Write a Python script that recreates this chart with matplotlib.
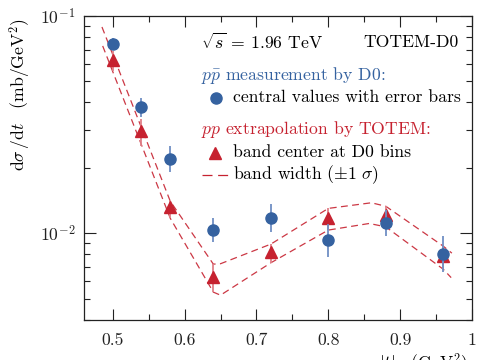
import numpy as np
import matplotlib
matplotlib.use("Agg")
import matplotlib.pyplot as plt
from matplotlib.ticker import FixedLocator, LogLocator, NullFormatter

plt.rcParams['font.family'] = ['cmr10', 'DejaVu Serif']
plt.rcParams['mathtext.fontset'] = 'cm'
plt.rcParams['axes.formatter.use_mathtext'] = True
plt.rcParams['axes.unicode_minus'] = False

# ---- data ----
t_bins = [0.50, 0.54, 0.58, 0.64, 0.72, 0.80, 0.88, 0.96]

d0_val = [0.0745, 0.0381, 0.0219, 0.0103, 0.0118, 0.00925, 0.0111, 0.00805]
d0_lo = [0.0697, 0.0344, 0.0191, 0.00907, 0.01017, 0.00775, 0.00967, 0.00665]
d0_hi = [0.0794, 0.0421, 0.0251, 0.01169, 0.01369, 0.01104, 0.01274, 0.00975]

totem_val = [0.0630, 0.0295, 0.0132, 0.00625, 0.00817, 0.0118, 0.0121, 0.00786]
totem_lo = [0.0558, 0.0251, 0.01172, 0.00535, 0.00730, 0.01033, 0.01069, 0.00682]
totem_hi = [0.0690, 0.0335, 0.01404, 0.00720, 0.00890, 0.0130, 0.0133, 0.00871]

band_up_t = [0.485, 0.58, 0.64, 0.65, 0.72, 0.80, 0.86, 0.88, 0.96, 0.972]
band_up_v = [0.0890, 0.01404, 0.00720, 0.00723, 0.00890, 0.0130, 0.0138, 0.0133, 0.00871, 0.00809]
band_lo_t = [0.486, 0.58, 0.64, 0.65, 0.72, 0.80, 0.857, 0.88, 0.96, 0.971]
band_lo_v = [0.0728, 0.01172, 0.00535, 0.00518, 0.00730, 0.01033, 0.01108, 0.01069, 0.00682, 0.00624]

x_ticks = [0.5, 0.6, 0.7, 0.8, 0.9, 1.0]
x_ticklabels = ['0.5', '0.6', '0.7', '0.8', '0.9', '1']

BLUE = '#3562a0'
RED = '#c62230'

W, H = 485, 360
fig = plt.figure(figsize=(W / 100, H / 100), dpi=100)
L, R, T, B = 84, 472, 16, 320
ax = fig.add_axes([L / W, 1 - B / H, (R - L) / W, (B - T) / H])

ax.set_yscale('log')
ax.set_xlim(0.46, 1.0)
ax.set_ylim(10 ** -2.4, 0.1)

dash = (5.5, 3.5)
ax.plot(band_up_t, band_up_v, color=RED, lw=0.9, dashes=dash, alpha=0.9)
ax.plot(band_lo_t, band_lo_v, color=RED, lw=0.9, dashes=dash, alpha=0.9)

tv = np.array(totem_val)
ax.errorbar(t_bins, totem_val,
            yerr=[tv - np.array(totem_lo), np.array(totem_hi) - tv],
            fmt='none', ecolor='#e08088', elinewidth=1.3, capsize=0)
ax.plot(t_bins, totem_val, ls='none', marker='^', ms=8, color=RED, mec=RED)

dv = np.array(d0_val)
ax.errorbar(t_bins, d0_val,
            yerr=[dv - np.array(d0_lo), np.array(d0_hi) - dv],
            fmt='none', ecolor='#6f8fc4', elinewidth=1.3, capsize=0)
ax.plot(t_bins, d0_val, ls='none', marker='o', ms=8, color=BLUE, mec=BLUE)

# ticks
ax.xaxis.set_major_locator(FixedLocator(x_ticks))
ax.set_xticklabels(x_ticklabels)
ax.xaxis.set_minor_locator(FixedLocator([0.55, 0.65, 0.75, 0.85, 0.95]))
ax.yaxis.set_major_locator(LogLocator(base=10, numticks=5))
ax.yaxis.set_minor_locator(LogLocator(base=10, subs=np.arange(2, 10), numticks=20))
ax.yaxis.set_minor_formatter(NullFormatter())
ax.tick_params(which='both', direction='in', top=True, right=True, width=0.8,
               labelsize=12.7, colors='#222222')
ax.tick_params(axis='x', which='major', length=8, pad=9)
ax.tick_params(axis='x', which='minor', length=4)
ax.tick_params(axis='y', which='major', length=8.5, pad=6)
ax.tick_params(axis='y', which='minor', length=4.5)
for s in ax.spines.values():
    s.set_linewidth(0.9)
    s.set_color('#222222')

# axis labels
fig.text(20 / W, 1 - 18 / H, r'$\mathrm{d}\sigma\,/\mathrm{d}t\quad(\mathrm{mb/GeV}^2)$',
         rotation=90, ha='center', va='top', fontsize=12.7)
fig.text(467 / W, 1 - 352 / H, r'$|t|\quad(\mathrm{GeV}^2)$',
         ha='right', va='top', fontsize=12.7)

# legend / annotations
def axp(px, py):
    return (px - L) / (R - L), (B - py) / (B - T)

fs = 12.7
ax.text(*axp(201, 42), r'$\sqrt{s}$ = 1.96 TeV', transform=ax.transAxes,
        ha='left', va='center', fontsize=fs)
ax.text(*axp(459, 42), 'TOTEM-D0', transform=ax.transAxes,
        ha='right', va='center', fontsize=fs)
ax.text(*axp(201, 75), r'$p\bar{p}$ measurement by D0:', transform=ax.transAxes,
        ha='left', va='center', fontsize=fs, color=BLUE)
ax.plot(*axp(216, 98), transform=ax.transAxes, marker='o', ms=8, color=BLUE, clip_on=False)
ax.text(*axp(233, 97), 'central values with error bars', transform=ax.transAxes,
        ha='left', va='center', fontsize=fs)
ax.text(*axp(201, 130), r'$pp$ extrapolation by TOTEM:', transform=ax.transAxes,
        ha='left', va='center', fontsize=fs, color=RED)
ax.plot(*axp(215, 153), transform=ax.transAxes, marker='^', ms=8, color=RED, clip_on=False)
ax.text(*axp(233, 152), 'band center at D0 bins', transform=ax.transAxes,
        ha='left', va='center', fontsize=fs)
x0, y0 = axp(202, 175)
x1, _ = axp(229, 175)
ax.plot([x0, x1], [y0, y0], transform=ax.transAxes, color=RED, lw=0.9,
        dashes=(8, 4.5), clip_on=False)
ax.text(*axp(233, 175), r'band width ($\pm 1\ \sigma$)', transform=ax.transAxes,
        ha='left', va='center', fontsize=fs)

fig.savefig('out.png', dpi=100)
